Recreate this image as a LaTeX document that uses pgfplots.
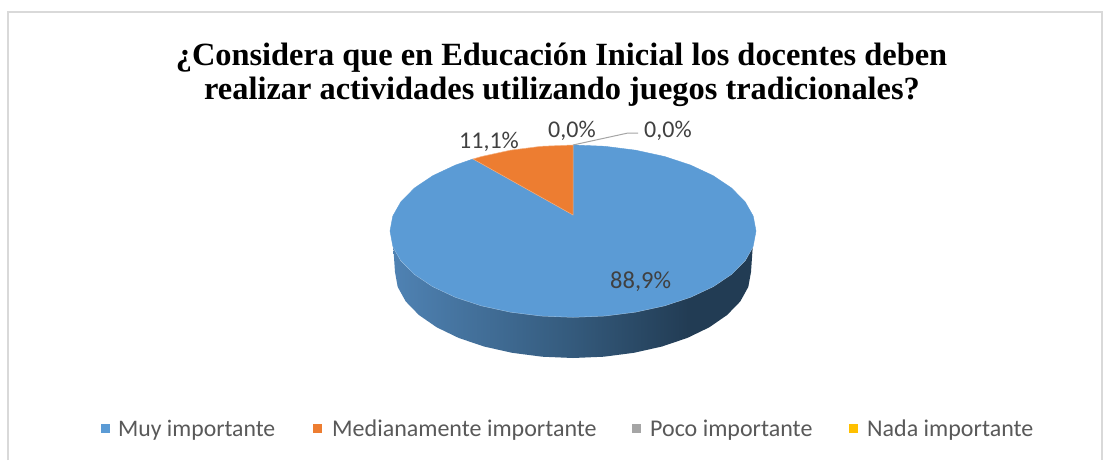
\documentclass[border=0pt]{standalone}
\usepackage{pgfplots}
\pgfplotsset{compat=1.18}
\usepackage{fontspec}
\setmainfont{Liberation Serif}
\newfontfamily\calf{Carlito}
\definecolor{blueT}{HTML}{5B9BD5}
\definecolor{orangeT}{HTML}{ED7D31}
\definecolor{grayT}{HTML}{A5A5A5}
\definecolor{yellowT}{HTML}{FFC000}
\definecolor{lab}{HTML}{404040}
\definecolor{leg}{HTML}{595959}
\definecolor{wa}{HTML}{4F82B3}
\definecolor{wb}{HTML}{345A7C}
\definecolor{wc}{HTML}{223C54}
\pgfdeclarehorizontalshading{wall}{100bp}{color(0bp)=(wa); color(25bp)=(wa); color(50bp)=(wb); color(66bp)=(wc); color(100bp)=(wc)}
\begin{document}
\begin{tikzpicture}[x=1pt,y=1pt]
\begin{axis}[
  scale only axis, width=1112pt, height=460pt,
  xmin=0, xmax=1112, ymin=0, ymax=460, y dir=reverse,
  axis lines=none, clip=false, ticks=none]
% page background and frame
\addplot[draw=none, fill=white, forget plot] coordinates {(0,0)(1112,0)(1112,460)(0,460)} --cycle;
\addplot[color=black!15, line width=1.8pt, forget plot] coordinates {(8,460)(8,12)(1102,12)(1102,460)};
% wall
\addplot[draw=none, shading=wall, forget plot] coordinates {
(393,243)(395,272)(397.7,286.9)(405.7,301.4)(418.9,315)(436.7,327.3)(458.6,337.9)(484,346.5)(512.1,352.8)(542.1,356.7)(573,358)(603.9,356.7)(633.9,352.8)(662,346.5)(687.4,337.9)(709.3,327.3)(727.1,315)(740.3,301.4)(748.3,286.9)(751,272)(753,243)(573,231)} --cycle;
% lit rim
\addplot[color=blueT!35!white, line width=1pt, forget plot] coordinates {
(392.8,245.9)(401,260.4)(414.5,274)(432.8,286.3)(455.4,296.9)(481.5,305.5)(510.4,311.8)(541.2,315.7)(573,317)(604.8,315.7)(635.6,311.8)(664.5,305.5)(690.6,296.9)(713.2,286.3)(731.5,274)(745,260.4)(753.2,245.9)};
% blue slice: 88.9 %
\addplot[fill=blueT, draw=blueT, line width=0.4pt, forget plot] coordinates {
(573,215)(573,145)(604.8,146.3)(635.6,150.2)(664.5,156.5)(690.6,165.1)(713.2,175.7)(731.5,188)(745,201.6)(753.2,216.1)(756,231)(753.2,245.9)(745,260.4)(731.5,274)(713.2,286.3)(690.6,296.9)(664.5,305.5)(635.6,311.8)(604.8,315.7)(573,317)(541.2,315.7)(510.4,311.8)(481.5,305.5)(455.4,296.9)(432.8,286.3)(414.5,274)(401,260.4)(392.8,245.9)(390,231)(392.8,216.1)(401,201.6)(414.5,188)(432.8,175.7)(455.4,165.1)(473,159)} --cycle;
% orange slice: 11.1 %
\addplot[fill=orangeT, draw=orangeT!60!white, line width=0.5pt, forget plot] coordinates {
(573,215)(473,159)(481.5,156.5)(510.4,150.2)(541.2,146.3)(573,145)} --cycle;
% leader
\addplot[color=grayT, line width=1pt, forget plot] coordinates {(573,145)(628,133)(638,133)};
% legend squares
\addplot[only marks, mark=square*, mark size=4pt, mark options={draw=blueT, fill=blueT}, forget plot] coordinates {(105,428)};
\addplot[only marks, mark=square*, mark size=4pt, mark options={draw=orangeT, fill=orangeT}, forget plot] coordinates {(317,428)};
\addplot[only marks, mark=square*, mark size=4pt, mark options={draw=grayT, fill=grayT}, forget plot] coordinates {(636,428)};
\addplot[only marks, mark=square*, mark size=4pt, mark options={draw=yellowT, fill=yellowT}, forget plot] coordinates {(853,428)};
% title
\node[anchor=base, font=\fontsize{32.4}{36}\selectfont\bfseries] at (axis cs:561.5,65.5) {¿Considera que en Educación Inicial los docentes deben};
\node[anchor=base, font=\fontsize{32.4}{36}\selectfont\bfseries] at (axis cs:562,99) {realizar actividades utilizando juegos tradicionales?};
% data labels
\node[anchor=base west, text=lab, inner sep=0pt, font=\calf\fontsize{24}{28}\selectfont] at (axis cs:459,148) {11,1\%};
\node[anchor=base west, text=lab, inner sep=0pt, font=\calf\fontsize{24}{28}\selectfont] at (axis cs:548,137) {0,0\%};
\node[anchor=base west, text=lab, inner sep=0pt, font=\calf\fontsize{24}{28}\selectfont] at (axis cs:644,137) {0,0\%};
\node[anchor=base west, text=lab, inner sep=0pt, font=\calf\fontsize{24.5}{28}\selectfont] at (axis cs:610,288) {88,9\%};
\node[anchor=base west, text=leg, inner sep=0pt, font=\calf\fontsize{23.7}{28}\selectfont] at (axis cs:118,436) {Muy importante};
\node[anchor=base west, text=leg, inner sep=0pt, font=\calf\fontsize{24}{28}\selectfont] at (axis cs:332,436) {Medianamente importante};
\node[anchor=base west, text=leg, inner sep=0pt, font=\calf\fontsize{24}{28}\selectfont] at (axis cs:650,436) {Poco importante};
\node[anchor=base west, text=leg, inner sep=0pt, font=\calf\fontsize{24}{28}\selectfont] at (axis cs:867,436) {Nada importante};
\end{axis}
\end{tikzpicture}
\end{document}
